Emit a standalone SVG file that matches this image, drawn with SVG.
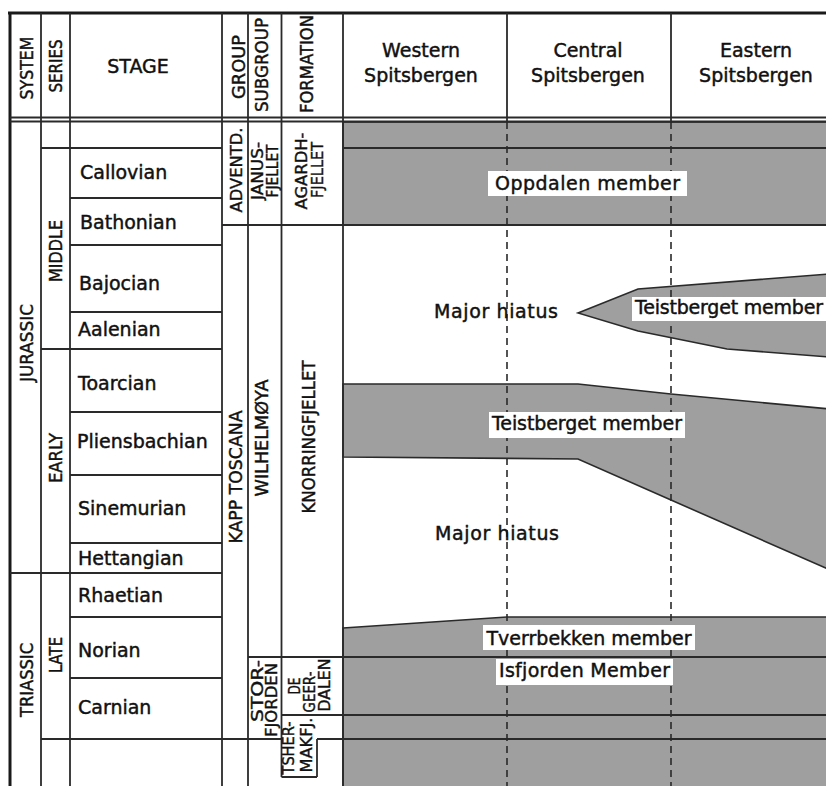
<svg xmlns="http://www.w3.org/2000/svg" width="826" height="786" viewBox="0 0 826 786">
<defs>
<style>
.t{font-family:"DejaVu Sans","Liberation Sans",sans-serif;font-size:19px;fill:#111;stroke:#111;stroke-width:0.45}
.h{font-family:"DejaVu Sans","Liberation Sans",sans-serif;font-size:18px;fill:#111;stroke:#111;stroke-width:0.45;text-anchor:middle}
.s{font-family:"DejaVu Sans","Liberation Sans",sans-serif;font-size:16px;fill:#111;stroke:#111;stroke-width:0.4;text-anchor:middle}
.c{text-anchor:middle}
.ln{stroke:#2a2a2a;stroke-width:1.8;fill:none}
.bd{stroke:#1a1a1a;stroke-width:3;fill:none}
.sh{fill:#9f9f9f;stroke:#2a2a2a;stroke-width:1.6}
.dash{stroke:#2a2a2a;stroke-width:1.6;stroke-dasharray:7 5;fill:none}
.box{fill:#fff}
</style>
</defs>
<rect width="826" height="786" fill="#fff"/>

<!-- shaded members -->
<g id="shading">
<rect class="sh" x="343" y="122" width="490" height="103"/>
<polygon class="sh" points="578,313 638,289 830,274 830,357 727,349 638,331"/>
<polygon class="sh" points="343,384 578,384 671,394 830,409 830,570 671,500 578,459 343,457"/>
<polygon class="sh" points="343,628 507,617 830,617 830,790 343,790"/>
</g>

<!-- grid lines -->
<g id="grid">
<line class="bd" x1="8" y1="13" x2="826" y2="13"/>
<line class="bd" x1="10" y1="12" x2="10" y2="786"/>
<line class="ln" x1="10" y1="117.5" x2="826" y2="117.5"/>
<line class="ln" x1="10" y1="121.5" x2="826" y2="121.5"/>
<line class="ln" x1="41" y1="13" x2="41" y2="786"/>
<line class="ln" x1="70" y1="13" x2="70" y2="786"/>
<line class="ln" x1="222" y1="13" x2="222" y2="786"/>
<line class="ln" x1="248" y1="13" x2="248" y2="786"/>
<line class="ln" x1="281.5" y1="13" x2="281.5" y2="777"/>
<line class="ln" x1="343" y1="13" x2="343" y2="786"/>
<line class="ln" x1="507" y1="13" x2="507" y2="121"/>
<line class="ln" x1="671" y1="13" x2="671" y2="121"/>
<line class="ln" x1="317" y1="739" x2="317" y2="777"/>
<line class="ln" x1="41" y1="148" x2="222" y2="148"/>
<line class="ln" x1="343" y1="148" x2="826" y2="148"/>
<line class="ln" x1="70" y1="198" x2="222" y2="198"/>
<line class="ln" x1="222" y1="225" x2="826" y2="225"/>
<line class="ln" x1="70" y1="245" x2="222" y2="245"/>
<line class="ln" x1="70" y1="312" x2="222" y2="312"/>
<line class="ln" x1="41" y1="349" x2="222" y2="349"/>
<line class="ln" x1="70" y1="412" x2="222" y2="412"/>
<line class="ln" x1="70" y1="475" x2="222" y2="475"/>
<line class="ln" x1="70" y1="543" x2="222" y2="543"/>
<line class="ln" x1="10" y1="573" x2="222" y2="573"/>
<line class="ln" x1="70" y1="617" x2="222" y2="617"/>
<line class="ln" x1="248" y1="657" x2="826" y2="657"/>
<line class="ln" x1="70" y1="678" x2="222" y2="678"/>
<line class="ln" x1="281.5" y1="715" x2="826" y2="715"/>
<line class="ln" x1="41" y1="739" x2="281.5" y2="739"/>
<line class="ln" x1="317" y1="739" x2="826" y2="739"/>
<line class="ln" x1="281.5" y1="777" x2="317" y2="777"/>
</g>

<g id="connectors">
<line class="dash" x1="507" y1="122" x2="507" y2="786"/>
<line class="dash" x1="671" y1="122" x2="671" y2="786"/>
</g>

<!-- header -->
<g id="header">
<text class="h" transform="translate(33,68) rotate(-90)" textLength="63" lengthAdjust="spacingAndGlyphs">SYSTEM</text>
<text class="h" transform="translate(62,66) rotate(-90)" textLength="53" lengthAdjust="spacingAndGlyphs">SERIES</text>
<text class="t c" x="138" y="73" font-size="18">STAGE</text>
<text class="h" transform="translate(245,67) rotate(-90)" textLength="64" lengthAdjust="spacingAndGlyphs">GROUP</text>
<text class="h" transform="translate(268,65) rotate(-90)" textLength="94" lengthAdjust="spacingAndGlyphs">SUBGROUP</text>
<text class="h" transform="translate(313,64) rotate(-90)" textLength="98" lengthAdjust="spacingAndGlyphs">FORMATION</text>
<text class="t c" x="421" y="57">Western</text>
<text class="t c" x="421" y="82">Spitsbergen</text>
<text class="t c" x="588" y="57">Central</text>
<text class="t c" x="588" y="82">Spitsbergen</text>
<text class="t c" x="756" y="57">Eastern</text>
<text class="t c" x="756" y="82">Spitsbergen</text>
</g>

<!-- system / series -->
<g id="system-series">
<text class="h" transform="translate(33,343) rotate(-90)" textLength="78" lengthAdjust="spacingAndGlyphs">JURASSIC</text>
<text class="h" transform="translate(33,680) rotate(-90)" textLength="74" lengthAdjust="spacingAndGlyphs">TRIASSIC</text>
<text class="h" transform="translate(62,251) rotate(-90)" textLength="62" lengthAdjust="spacingAndGlyphs">MIDDLE</text>
<text class="h" transform="translate(62,458) rotate(-90)" textLength="50" lengthAdjust="spacingAndGlyphs">EARLY</text>
<text class="h" transform="translate(62,655) rotate(-90)" textLength="36" lengthAdjust="spacingAndGlyphs">LATE</text>
</g>

<!-- stages -->
<g id="stages">
<text class="t" x="80" y="179">Callovian</text>
<text class="t" x="80" y="229">Bathonian</text>
<text class="t" x="79" y="290">Bajocian</text>
<text class="t" x="78" y="336">Aalenian</text>
<text class="t" x="78" y="390">Toarcian</text>
<text class="t" x="77" y="448">Pliensbachian</text>
<text class="t" x="78" y="515">Sinemurian</text>
<text class="t" x="78" y="565">Hettangian</text>
<text class="t" x="78" y="602">Rhaetian</text>
<text class="t" x="78" y="657">Norian</text>
<text class="t" x="78" y="714">Carnian</text>
</g>

<!-- lithostratigraphic units -->
<g id="units">
<text class="s" font-size="17" transform="translate(242,170) rotate(-90)" textLength="85" lengthAdjust="spacingAndGlyphs">ADVENTD.</text>
<text class="s" transform="translate(263,171) rotate(-90)" textLength="58" lengthAdjust="spacingAndGlyphs">JANUS-</text>
<text class="s" transform="translate(278,171) rotate(-90)" textLength="53" lengthAdjust="spacingAndGlyphs">FJELLET</text>
<text class="s" transform="translate(307,171) rotate(-90)" textLength="77" lengthAdjust="spacingAndGlyphs">AGARDH-</text>
<text class="s" transform="translate(323,170) rotate(-90)" textLength="56" lengthAdjust="spacingAndGlyphs">FJELLET</text>
<text class="h" transform="translate(242,477) rotate(-90)" textLength="133" lengthAdjust="spacingAndGlyphs">KAPP TOSCANA</text>
<text class="h" transform="translate(268,438) rotate(-90)" textLength="117" lengthAdjust="spacingAndGlyphs">WILHELMØYA</text>
<text class="h" transform="translate(315,437) rotate(-90)" textLength="153" lengthAdjust="spacingAndGlyphs">KNORRINGFJELLET</text>
<text class="s" transform="translate(263,691) rotate(-90)" textLength="62" lengthAdjust="spacingAndGlyphs">STOR-</text>
<text class="s" transform="translate(277,700) rotate(-90)" textLength="74" lengthAdjust="spacingAndGlyphs">FJORDEN</text>
<text class="s" transform="translate(300,686) rotate(-90)" textLength="17" lengthAdjust="spacingAndGlyphs">DE</text>
<text class="s" transform="translate(315,692) rotate(-90)" textLength="41" lengthAdjust="spacingAndGlyphs">GEER-</text>
<text class="s" transform="translate(330,685) rotate(-90)" textLength="53" lengthAdjust="spacingAndGlyphs">DALEN</text>
<text class="s" transform="translate(294,748) rotate(-90)" textLength="53" lengthAdjust="spacingAndGlyphs">TSHER-</text>
<text class="s" transform="translate(312,745) rotate(-90)" textLength="55" lengthAdjust="spacingAndGlyphs">MAKFJ.</text>
</g>

<!-- member labels -->
<g id="members">
<rect class="box" x="488" y="171" width="199" height="25"/>
<text class="t c" x="587.5" y="190" textLength="185">Oppdalen member</text>
<rect class="box" x="632" y="297" width="196" height="24"/>
<text class="t" x="635" y="314" textLength="188">Teistberget member</text>
<text class="t" x="434" y="318" textLength="124">Major hiatus</text>
<rect class="box" x="489" y="412" width="196" height="26"/>
<text class="t c" x="587" y="430" textLength="190">Teistberget member</text>
<text class="t" x="435" y="540" textLength="124">Major hiatus</text>
<rect class="box" x="483" y="625" width="212" height="25"/>
<text class="t c" x="589" y="645" textLength="205">Tverrbekken member</text>
<rect class="box" x="496" y="659" width="177" height="26"/>
<text class="t c" x="584.5" y="677" textLength="171">Isfjorden Member</text>
</g>
</svg>
